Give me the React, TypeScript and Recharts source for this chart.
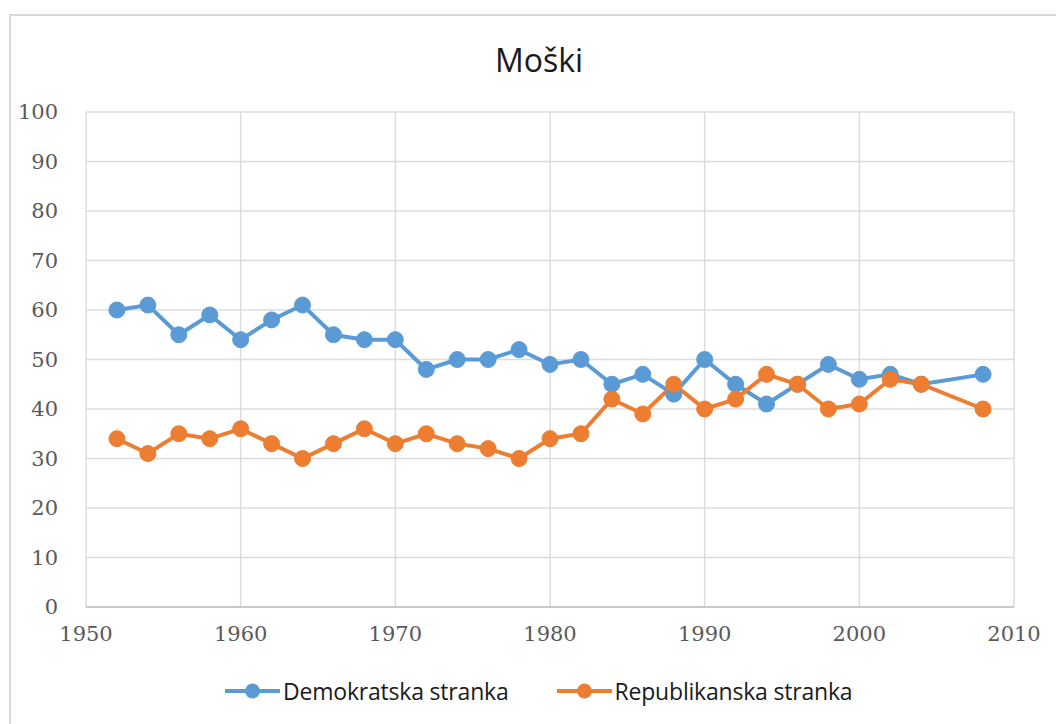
import { LineChart, Line, XAxis, YAxis, CartesianGrid } from "recharts";

const years = [1952, 1954, 1956, 1958, 1960, 1962, 1964, 1966, 1968, 1970, 1972, 1974, 1976, 1978, 1980, 1982, 1984, 1986, 1988, 1990, 1992, 1994, 1996, 1998, 2000, 2002, 2004, 2008];
const demokratska = [60, 61, 55, 59, 54, 58, 61, 55, 54, 54, 48, 50, 50, 52, 49, 50, 45, 47, 43, 50, 45, 41, 45, 49, 46, 47, 45, 47];
const republikanska = [34, 31, 35, 34, 36, 33, 30, 33, 36, 33, 35, 33, 32, 30, 34, 35, 42, 39, 45, 40, 42, 47, 45, 40, 41, 46, 45, 40];
const xTicks = [1950, 1960, 1970, 1980, 1990, 2000, 2010];
const yTicks = [0, 10, 20, 30, 40, 50, 60, 70, 80, 90, 100];

const series = [
  { key: "dem", name: "Demokratska stranka", color: "#5B9BD5" },
  { key: "rep", name: "Republikanska stranka", color: "#ED7D31" },
];

const data = years.map((y, i) => ({ year: y, dem: demokratska[i], rep: republikanska[i] }));

const tickStyle = { fill: "#595959", fontSize: 21, fontFamily: "DejaVu Serif, serif" };

export default function App() {
  return (
    <div style={{ position: "absolute", left: 0, top: 0, width: 1056, height: 724, background: "#fff", overflow: "hidden" }}>
      <div style={{ position: "absolute", left: 9, top: 14, width: 1060, height: 740, border: "2px solid #d9d9d9", boxSizing: "border-box" }} />
      <div style={{ position: "absolute", left: 0, width: 1078, top: 38, textAlign: "center", fontFamily: "Open Sans, sans-serif", fontSize: 32, color: "#1a1a1a" }}>
        Moški
      </div>
      <div style={{ position: "absolute", left: 0, top: 0 }}>
        <LineChart width={1056} height={724} data={data} margin={{ top: 112, right: 42, bottom: 87, left: 0 }}>
          <CartesianGrid stroke="#dcdcdc" strokeWidth={1.5} />
          <XAxis
            dataKey="year"
            type="number"
            domain={[1950, 2010]}
            ticks={xTicks}
            interval={0}
            tickLine={false}
            axisLine={{ stroke: "#bfbfbf", strokeWidth: 1.5 }}
            tick={tickStyle}
            tickMargin={13}
            height={30}
          />
          <YAxis
            domain={[0, 100]}
            ticks={yTicks}
            interval={0}
            tickLine={false}
            axisLine={false}
            tick={tickStyle}
            tickMargin={22}
            width={86}
          />
          {series.map((s) => (
            <Line
              key={s.key}
              dataKey={s.key}
              name={s.name}
              stroke={s.color}
              strokeWidth={4}
              dot={{ r: 8, fill: s.color, stroke: s.color, strokeWidth: 1 }}
              isAnimationActive={false}
            />
          ))}
        </LineChart>
      </div>
      <div style={{ position: "absolute", top: 675, left: 225, display: "flex", gap: 48, fontFamily: "Open Sans, sans-serif", fontSize: 23, color: "#1a1a1a", letterSpacing: -0.2 }}>
        {series.map((s) => (
          <div key={s.key} style={{ display: "flex", alignItems: "center" }}>
            <svg width={55} height={20} style={{ marginRight: 3 }}>
              <line x1={0} y1={10} x2={55} y2={10} stroke={s.color} strokeWidth={4} />
              <circle cx={27.5} cy={10} r={7.5} fill={s.color} />
            </svg>
            <span>{s.name}</span>
          </div>
        ))}
      </div>
    </div>
  );
}
